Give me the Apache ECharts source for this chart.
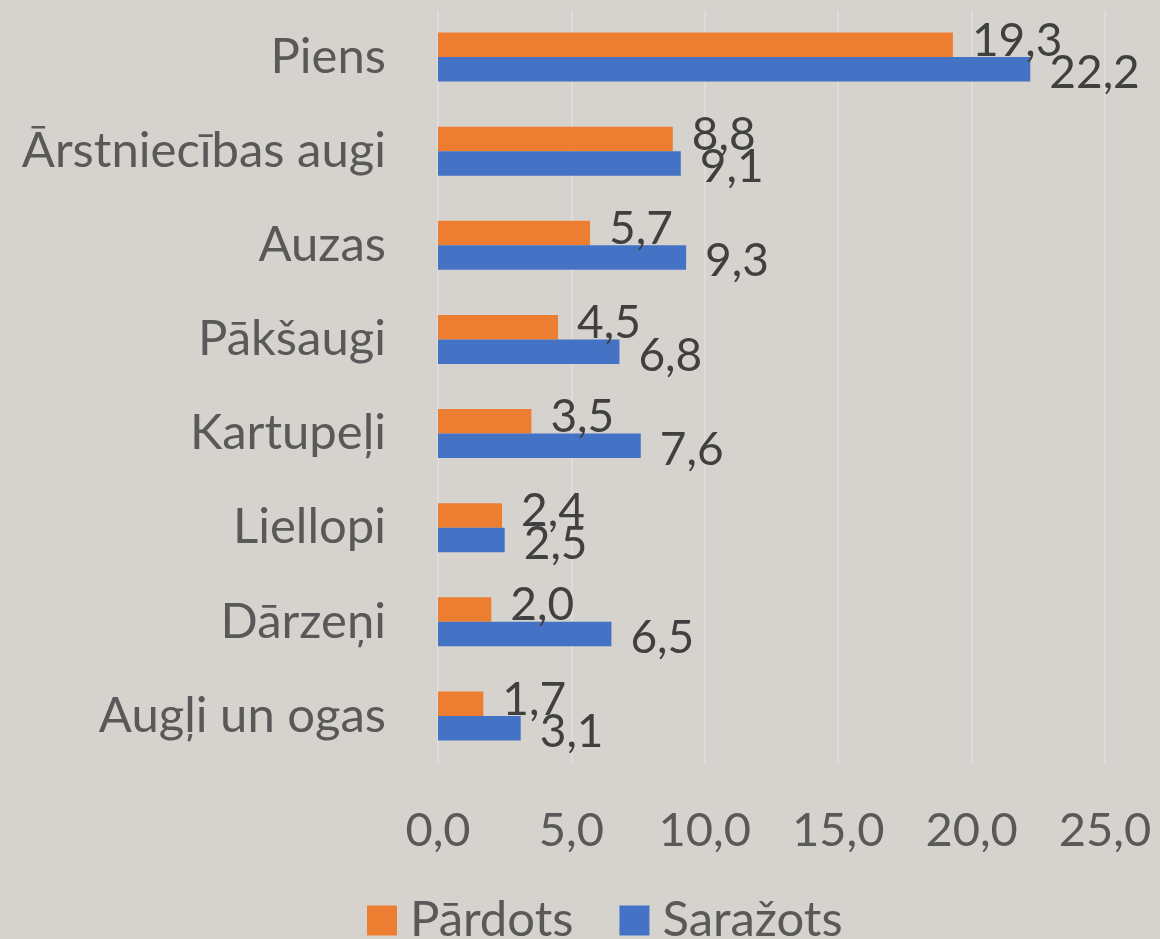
<!DOCTYPE html>
<html lang="lv">
<head>
    <meta charset="UTF-8">
    <title>Pārdots un saražots</title>
    <script src="https://cdn.jsdelivr.net/npm/echarts@6/dist/echarts.min.js"></script>
</head>
<style>
    html,body{
        padding: 0;
        margin: 0;
        background: #d6d3ce;
    }
</style>
<body>
<div id="chart" style="width: 1160px;height:939px;"></div>
</body>
<script type="text/javascript">
    // kategorijas (no augšas uz leju)
    var categories = ['Piens', 'Ārstniecības augi', 'Auzas', 'Pākšaugi', 'Kartupeļi', 'Liellopi', 'Dārzeņi', 'Augļi un ogas'];
    var pardots = [19.3, 8.8, 5.7, 4.5, 3.5, 2.4, 2.0, 1.7];
    var sarazots = [22.2, 9.1, 9.3, 6.8, 7.6, 2.5, 6.5, 3.1];
    var seriesNames = ['Pārdots', 'Saražots'];

    var font = 'Lato';
    var myChart = echarts.init(document.getElementById('chart'));

    function fmt(v) {
        return Number(v).toFixed(1).replace('.', ',');
    }

    var option = {
        backgroundColor: '#d6d3ce',
        textStyle: { fontFamily: font },
        grid: {
            left: 438,
            right: 55,
            top: 10,
            bottom: 176
        },
        legend: {
            data: seriesNames,
            left: 362,
            top: 891,
            itemWidth: 30,
            itemHeight: 30,
            itemGap: 46,
            icon: 'rect',
            textStyle: { fontSize: 49, color: '#595959', fontFamily: font, padding: [0, 0, 0, 8] }
        },
        xAxis: {
            type: 'value',
            min: 0,
            max: 25,
            interval: 5,
            axisLine: { show: false },
            axisTick: { show: false },
            splitLine: { lineStyle: { color: '#e0dfdc', width: 1.5 } },
            axisLabel: {
                margin: 44,
                fontSize: 47,
                color: '#595959',
                fontFamily: font,
                formatter: fmt
            }
        },
        yAxis: {
            type: 'category',
            data: categories,
            inverse: true,
            axisLine: { show: false },
            axisTick: { show: false },
            axisLabel: {
                margin: 52,
                fontSize: 49,
                color: '#595959',
                fontFamily: font
            }
        },
        series: [
            {
                name: seriesNames[0],
                type: 'bar',
                data: pardots,
                barGap: '0%',
                barCategoryGap: '48%',
                itemStyle: { color: '#ed7d31' },
                label: {
                    show: true,
                    position: 'right',
                    distance: 19,
                    offset: [0, -4],
                    fontSize: 46,
                    color: '#404040',
                    fontFamily: font,
                    formatter: function (p) { return fmt(p.value); }
                }
            },
            {
                name: seriesNames[1],
                type: 'bar',
                data: sarazots,
                barGap: '0%',
                barCategoryGap: '48%',
                itemStyle: { color: '#4472c4' },
                label: {
                    show: true,
                    position: 'right',
                    distance: 19,
                    offset: [0, 4],
                    fontSize: 46,
                    color: '#404040',
                    fontFamily: font,
                    formatter: function (p) { return fmt(p.value); }
                }
            }
        ]
    };

    myChart.setOption(option);
</script>
</html>
